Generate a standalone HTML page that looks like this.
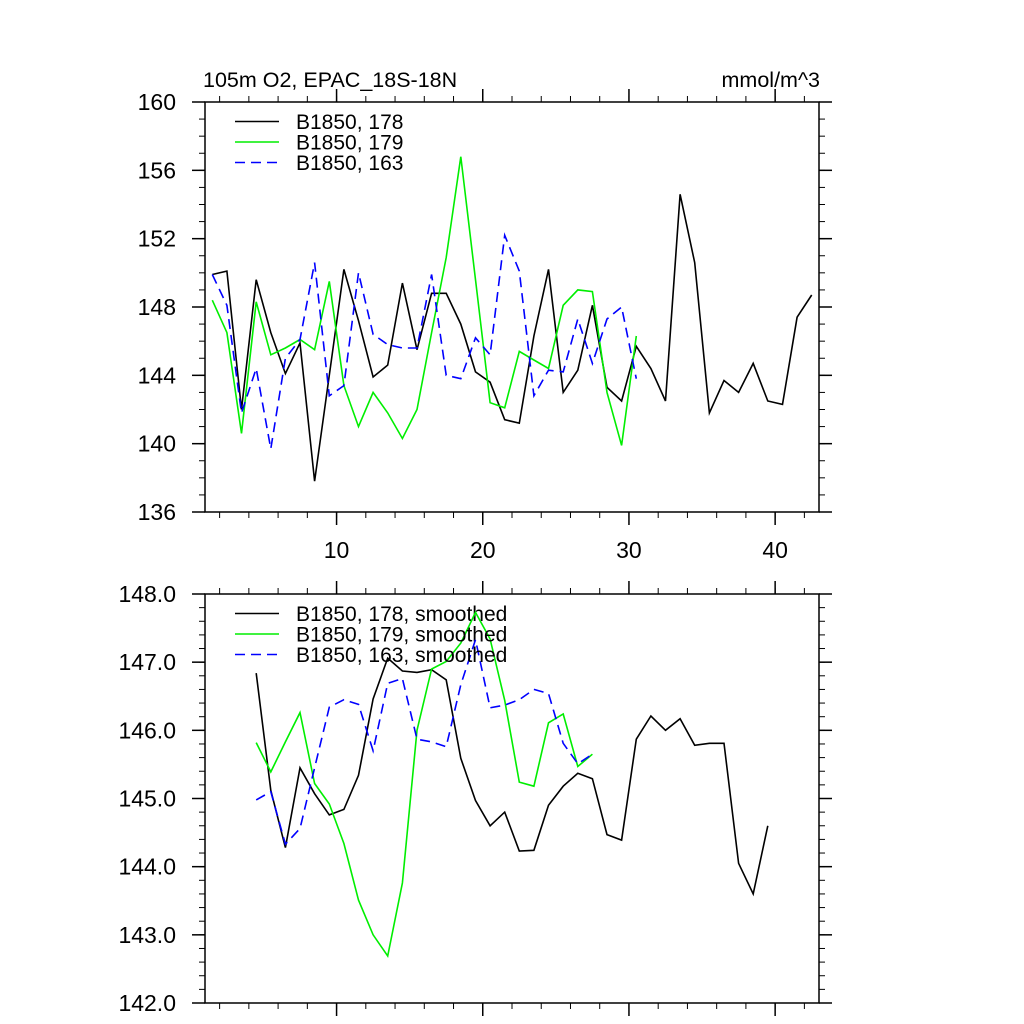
<!DOCTYPE html>
<html><head><meta charset="utf-8">
<style>
html,body{margin:0;padding:0;background:#fff;}
svg{display:block;font-family:"Liberation Sans",sans-serif;}
</style></head>
<body>
<svg id="chart" width="1024" height="1024" viewBox="0 0 1024 1024" xmlns="http://www.w3.org/2000/svg">
<rect width="1024" height="1024" fill="#fff"/>
<text x="203" y="87" font-size="21.5">105m O2, EPAC_18S-18N</text>
<text x="820" y="87" font-size="21.5" text-anchor="end">mmol/m^3</text>
<g id="top"></g>
<g id="bottom"></g>
</svg>
<script>
const ser178 = [149.9,150.1,142.0,149.6,146.5,144.1,145.9,137.8,144.0,150.2,147.2,143.9,144.6,149.4,145.5,148.8,148.8,147.0,144.2,143.6,141.4,141.2,146.3,150.2,143.0,144.3,148.1,143.3,142.5,145.7,144.4,142.5,154.6,150.6,141.8,143.7,143.0,144.7,142.5,142.3,147.4,148.7];
const ser179 = [148.4,146.5,140.6,148.3,145.2,145.6,146.1,145.5,149.5,143.4,141.0,143.0,141.8,140.3,142.0,146.5,150.9,156.8,149.6,142.4,142.1,145.4,144.9,144.4,148.1,149.0,148.9,143.0,139.9,146.3];
const ser163 = [149.9,148.1,141.8,144.4,139.7,145.0,146.1,150.6,142.8,143.4,150.0,146.4,145.8,145.6,145.6,149.9,144.0,143.8,146.2,145.2,152.2,150.1,142.8,144.3,144.2,147.3,144.7,147.3,148.0,143.8];
const rawStart = 1.5;
const sm178 = [146.84,145.12,144.28,145.45,145.07,144.76,144.84,145.34,146.46,147.06,146.87,146.85,146.89,146.74,145.59,144.97,144.60,144.80,144.23,144.24,144.90,145.18,145.37,145.29,144.47,144.39,145.87,146.21,146.00,146.17,145.78,145.81,145.81,144.05,143.60,144.60];
const sm179 = [145.82,145.39,145.83,146.26,145.22,144.92,144.34,143.51,143.00,142.69,143.76,146.00,146.90,147.01,147.28,147.73,147.34,146.44,145.24,145.18,146.11,146.24,145.47,145.65];
const sm163 = [144.98,145.10,144.33,144.56,145.45,146.34,146.45,146.38,145.70,146.69,146.76,145.87,145.83,145.76,146.67,147.33,146.33,146.37,146.45,146.60,146.54,145.81,145.51,145.65];
const smStart = 4.5;
const topYTicks = [136,140,144,148,152,156,160];
const botYTicks = [142,143,144,145,146,147,148];
const xTicks = [10,20,30,40];
const legendTop = ["B1850, 178","B1850, 179","B1850, 163"];
const legendBot = ["B1850, 178, smoothed","B1850, 179, smoothed","B1850, 163, smoothed"];

const NS="http://www.w3.org/2000/svg";
const X0=205,X1=819,XMIN=1,XMAX=43;
function xs(v){return X0+(v-XMIN)/(XMAX-XMIN)*(X1-X0);}
function mk(parent,tag,attrs,text){const e=document.createElementNS(NS,tag);for(const k in attrs)e.setAttribute(k,attrs[k]);if(text!==undefined)e.textContent=text;parent.appendChild(e);return e;}

function panel(g,y0,y1,ymin,ymax,yticks,minorStep,fmt,showXLabels,series,starts,legend,legY,prefix){
  const ys=v=>y1-(v-ymin)/(ymax-ymin)*(y1-y0);
  const ax=mk(g,'g',{});
  
  
  mk(ax,'rect',{x:X0,y:y0,width:X1-X0,height:y1-y0,fill:'none',stroke:'#000','stroke-width':1.5});
  const n=Math.round((ymax-ymin)/minorStep);
  for(let k=0;k<=n;k++){
    const y=ys(ymin+k*minorStep);
    mk(ax,'line',{x1:X0-6,x2:X0,y1:y,y2:y,stroke:'#000','stroke-width':1});
    mk(ax,'line',{x1:X1,x2:X1+6,y1:y,y2:y,stroke:'#000','stroke-width':1});
  }
  yticks.forEach(v=>{
    const y=ys(v);
    mk(ax,'line',{x1:X0-13,x2:X0,y1:y,y2:y,stroke:'#000','stroke-width':1.5});
    mk(ax,'line',{x1:X1,x2:X1+13,y1:y,y2:y,stroke:'#000','stroke-width':1.5});
    const t=mk(ax,'text',{x:176,y:y+8,'font-size':23,'text-anchor':'end'},fmt(v));
    
    
  });
  for(let v=2;v<=XMAX;v+=2){
    const x=xs(v);
    mk(ax,'line',{x1:x,x2:x,y1:y1,y2:y1+6,stroke:'#000','stroke-width':1});
    mk(ax,'line',{x1:x,x2:x,y1:y0-6,y2:y0,stroke:'#000','stroke-width':1});
  }
  xTicks.forEach(v=>{
    const x=xs(v);
    mk(ax,'line',{x1:x,x2:x,y1:y1,y2:y1+13,stroke:'#000','stroke-width':1.5});
    mk(ax,'line',{x1:x,x2:x,y1:y0-13,y2:y0,stroke:'#000','stroke-width':1.5});
    if(showXLabels){
      const t=mk(ax,'text',{x:x,y:y1+46,'font-size':23,'text-anchor':'middle'},String(v));
      
      
    }
  });
  const colors=['#000','#00ee00','#0000ff'];
  const dashes=['none','none','10,6'];
  const names=['black-178','green-179','blue-163'];
  series.forEach((s,i)=>{
    const pts=s.map((v,j)=>xs(starts+j).toFixed(1)+','+ys(v).toFixed(1)).join(' ');
    const p=mk(g,'polyline',{points:pts,fill:'none',stroke:colors[i],'stroke-width':1.6,'stroke-dasharray':dashes[i]});
    
    
    const ly=legY+i*20.5;
    const le=mk(g,'g',{});
    
    
    mk(le,'line',{x1:235,x2:279,y1:ly,y2:ly,stroke:colors[i],'stroke-width':1.6,'stroke-dasharray':dashes[i]});
    mk(le,'text',{x:296,y:ly+7.5,'font-size':21},legend[i]);
  });
}
panel(document.getElementById('top'),102,512,136,160,topYTicks,1,v=>String(v),true,[ser178,ser179,ser163],rawStart,legendTop,121.5,'top');
panel(document.getElementById('bottom'),594,1003,142,148,botYTicks,0.2,v=>v.toFixed(1),false,[sm178,sm179,sm163],smStart,legendBot,613.5,'bottom');
</script>
</body></html>
